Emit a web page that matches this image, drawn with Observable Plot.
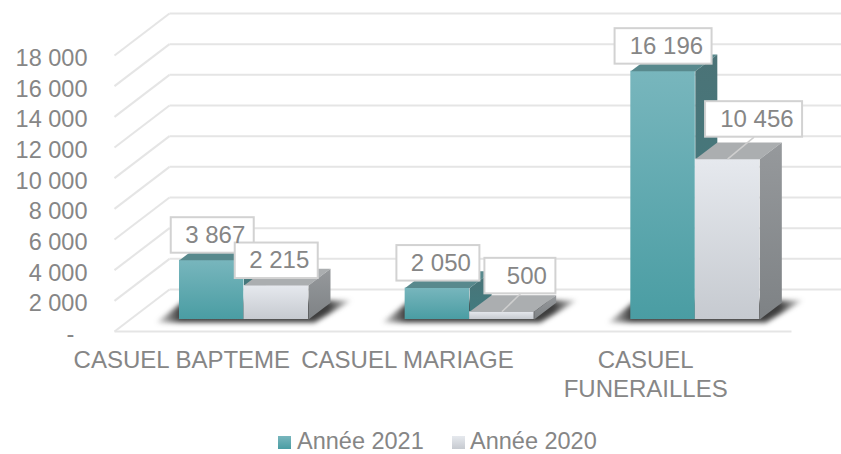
<!DOCTYPE html>
<html>
<head>
<meta charset="utf-8">
<script src="https://cdn.jsdelivr.net/npm/d3@7"></script>
<script src="https://cdn.jsdelivr.net/npm/@observablehq/plot@0.6"></script>
<style>
html,body{margin:0;padding:0;background:#fff;overflow:hidden}
#legend{position:relative;height:24px;font:23.5px/22px "Liberation Sans",Arial,sans-serif;color:#868686}
#legend span{position:absolute;top:0;height:22px;white-space:nowrap}
#legend i{position:absolute;width:13px;height:13px;top:6px;display:block}
</style>
</head>
<body>
<div id="chart"></div>
<div id="legend"></div>
<script>
const categories = ["CASUEL BAPTEME", "CASUEL MARIAGE", "CASUEL\nFUNERAILLES"];
const values2021 = [3867, 2050, 16196];
const values2020 = [2215, 500, 10456];
const seriesNames = ["Année 2021", "Année 2020"];
const yTicks = [0, 2000, 4000, 6000, 8000, 10000, 12000, 14000, 16000, 18000];

// layout constants, in pixels, turned into data units below
const slotPx = 677 / 3, unitPx = 276 / 18000;
const pxX = p => p / slotPx, pxY = p => p / unitPx;
const barStart = 0.288, barW = pxX(64.5);
const depthX = pxX(22), depthY = pxY(16.7), lift = pxY(12);
const wallX = pxX(55), wallY = pxY(42);
const labelShift = [1, 0.5, 1, 18.5, 0.5, 26.5];
const labelGap = [7, 7, 7, 18, 7, 22];
const catShift = [-45.5, -45.5, -33];
const boxW = {3: 71, 5: 83, 6: 97};

const fmt = v => String(v).replace(/\B(?=(\d{3})+$)/g, " ");
const bars = [];
[values2021, values2020].forEach((vals, s) => vals.forEach((v, c) => {
  const x1 = c + barStart + s * barW;
  bars.push({s, c, v, x1, x2: x1 + barW, y1: lift, y2: lift + v, id: s + "-" + c});
}));
const teal = bars.filter(d => d.s === 0), pale = bars.filter(d => d.s === 1);

const topFace = d => [[d.x1, d.y2], [d.x1 + depthX, d.y2 + depthY], [d.x2 + depthX, d.y2 + depthY], [d.x2, d.y2]]
  .map(([x, y]) => ({x, y, id: d.id}));
const sideFace = d => [[d.x2, d.y1], [d.x2 + depthX, d.y1 + depthY], [d.x2 + depthX, d.y2 + depthY], [d.x2, d.y2]]
  .map(([x, y]) => ({x, y, id: d.id}));

const shadows = categories.flatMap((_, c) => {
  const x0 = c + barStart;
  return [[-23, -3], [135, -3], [172, 19], [5, 19]].map(([a, b]) => ({
    x: x0 + pxX(a), y: lift + pxY(b), id: c
  }));
});

const labels = [...teal, ...pale].sort((a, b) => a.c - b.c || a.s - b.s).map((d, i) => {
  const text = fmt(d.v), w = boxW[text.length];
  const cx = (d.x1 + d.x2) / 2 + pxX(labelShift[i]);
  const bottom = d.y2 + pxY(labelGap[i]);
  return {text, cx, bx1: cx - pxX(w / 2), bx2: cx + pxX(w / 2), by1: bottom, by2: bottom + pxY(35.5),
    barX: (d.x1 + d.x2) / 2, barY: d.y2, leader: labelShift[i] > 5};
});

const grad = (id, c1, c2) => `<linearGradient id="${id}" x1="0" y1="0" x2="0" y2="1"><stop offset="0" stop-color="${c1}"/><stop offset="1" stop-color="${c2}"/></linearGradient>`;
const defs = () => {
  const g = d3.create("svg:defs");
  g.html(
    grad("tealFront", "#78b6bd", "#4a9da3") +
    grad("tealSide", "#4b7377", "#3f7c80") +
    grad("paleFront", "#e6e9ee", "#c6cad0") +
    grad("paleSide", "#96999c", "#7e8285") +
    `<linearGradient id="floorShade" x1="0" y1="0" x2="1" y2="0">
       <stop offset="0" stop-color="#333" stop-opacity="0.15"/>
       <stop offset="0.12" stop-color="#333" stop-opacity="0.95"/>
       <stop offset="0.88" stop-color="#333" stop-opacity="0.95"/>
       <stop offset="1" stop-color="#333" stop-opacity="0.15"/>
     </linearGradient>`
  );
  return g.node();
};

const face = (data, fill) => Plot.line(data, {x: "x", y: "y", z: "id", fill, stroke: "none"});
const ink = "#868686", gridC = "#e5e5e5";

const plot = Plot.plot({
  width: 841, height: 430,
  marginLeft: 114, marginRight: 50, marginTop: 0, marginBottom: 0,
  x: {domain: [0, 3], range: [114, 791], axis: null},
  y: {domain: [0, 18000], range: [331, 55], axis: null},
  style: {fontFamily: '"Liberation Sans", Arial, sans-serif', fontSize: "24px", color: ink, background: "#fff"},
  marks: [
    defs,
    // walls
    Plot.link(yTicks, {x1: wallX, x2: 3 + wallX, y1: d => d + wallY, y2: d => d + wallY, stroke: gridC, strokeWidth: 2}),
    Plot.link(yTicks, {x1: 0, x2: wallX, y1: d => d, y2: d => d + wallY, stroke: gridC, strokeWidth: 2}),
    Plot.link([0], {x1: 0, x2: 3, y1: 0, y2: 0, stroke: gridC, strokeWidth: 2}),
    // floor shadows
    Plot.line(shadows, {x: "x", y: "y", z: "id", fill: "url(#floorShade)", stroke: "none", imageFilter: "blur(2.5px)"}),
    // bars
    Plot.rect(teal, {x1: "x1", x2: "x2", y1: "y1", y2: "y2", fill: "url(#tealFront)"}),
    face(teal.flatMap(topFace), "#58898d"),
    face(teal.flatMap(sideFace), "url(#tealSide)"),
    Plot.rect(pale, {x1: "x1", x2: "x2", y1: "y1", y2: "y2", fill: "url(#paleFront)"}),
    face(pale.flatMap(topFace), "#abaeb0"),
    face(pale.flatMap(sideFace), "url(#paleSide)"),
    // axes
    Plot.axisY({ticks: yTicks, anchor: "left", label: null, tickSize: 0, tickPadding: 27, fontSize: 23.5, fill: ink, dy: 3,
      tickFormat: d => d === 0 ? "-\u00a0\u00a0" : fmt(d)}),
    Plot.text(categories, {
      x: (d, i) => i + 0.5 + pxX(catShift[i]), y: -pxY(17), text: d => d,
      lineAnchor: "top", lineHeight: 1.17, textAnchor: "middle", fontSize: 24, fill: ink
    }),
    // value call-outs
    Plot.link(labels.filter(d => d.leader), {x1: "cx", y1: "by1", x2: "barX", y2: "barY", stroke: "#cfcfcf", strokeWidth: 1.5}),
    Plot.rect(labels, {x1: "bx1", x2: "bx2", y1: "by1", y2: "by2", fill: "#fff", stroke: "#d2d2d2", strokeWidth: 2}),
    Plot.text(labels, {x: "bx2", y: d => (d.by1 + d.by2) / 2, text: "text", textAnchor: "end", dx: -9, fontSize: 24, fill: ink})
  ]
});
document.getElementById("chart").append(plot);
plot.style.display = "block";

const lg = document.getElementById("legend");
lg.innerHTML =
  `<i style="left:278px;background:linear-gradient(#78b6bd,#4a9da3)"></i><span style="left:297px">${seriesNames[0]}</span>` +
  `<i style="left:452px;background:linear-gradient(#e6e9ee,#c6cad0)"></i><span style="left:470px">${seriesNames[1]}</span>`;
</script>
</body>
</html>
